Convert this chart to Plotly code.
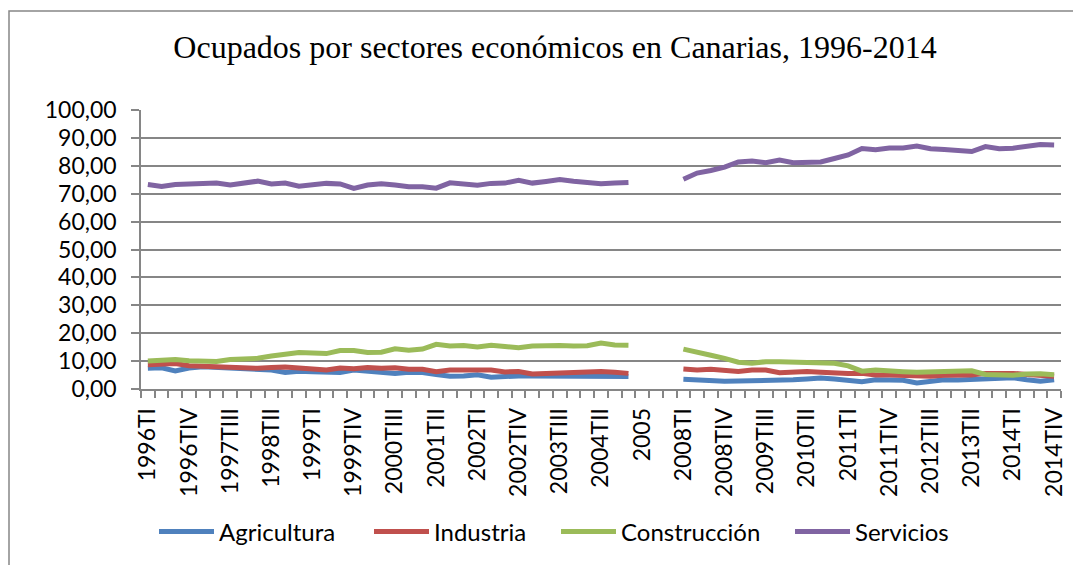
import plotly.graph_objects as go

# categories: quarters 1996-2004, years 2005-2007 (no data), quarters 2008-2014
quarters = ["TI", "TII", "TIII", "TIV"]
periodos = ([f"{y}{q}" for y in range(1996, 2005) for q in quarters]
            + ["2005", "2006", "2007"]
            + [f"{y}{q}" for y in range(2008, 2015) for q in quarters])
etiquetas = [p if i % 3 == 0 else "" for i, p in enumerate(periodos)]

hueco = [None, None, None]

agricultura = ([7.4, 7.6, 6.5, 7.5, 8.0, 7.8, 7.8, 7.5, 7.3, 6.8, 5.9, 6.4,
                6.2, 6.1, 5.9, 6.8, 6.5, 5.9, 5.6, 6.0, 5.9, 5.2, 4.6, 4.7,
                5.1, 4.2, 4.6, 4.7, 4.7, 4.7, 4.5, 4.6, 4.7, 4.7, 4.5, 4.5]
               + hueco
               + [3.5, 3.2, 2.8, 2.8, 2.9, 2.9, 2.9, 2.9, 3.3, 3.6, 3.9, 3.6,
                  3.1, 2.6, 3.3, 3.1, 3.1, 2.2, 2.9, 3.3, 3.2, 3.3, 3.4, 3.9,
                  4.0, 3.3, 2.8, 3.3])

industria = ([8.7, 8.7, 9.1, 8.3, 8.1, 8.0, 8.0, 7.7, 7.4, 7.7, 7.9, 7.5,
              7.1, 6.8, 7.5, 7.3, 7.7, 7.4, 7.6, 7.1, 7.1, 6.2, 6.8, 6.9,
              6.9, 6.8, 6.1, 6.3, 5.4, 5.6, 5.6, 5.6, 6.1, 6.3, 6.0, 5.6]
             + hueco
             + [7.2, 6.8, 7.1, 6.9, 6.3, 6.8, 6.8, 5.8, 6.2, 6.3, 6.0, 5.6,
                5.6, 5.6, 5.0, 5.0, 4.8, 4.4, 4.6, 4.9, 5.0, 5.0, 5.6, 5.8,
                5.6, 5.2, 4.8, 4.6])

construccion = ([10.0, 10.2, 10.6, 10.1, 10.2, 9.9, 10.6, 10.7, 11.0, 11.8, 12.6, 13.1,
                 12.9, 12.7, 13.8, 13.8, 13.1, 13.2, 14.4, 13.9, 14.3, 16.0, 15.4, 15.6,
                 15.1, 15.7, 15.2, 14.8, 15.4, 15.6, 15.6, 15.4, 15.5, 16.5, 15.8, 15.7]
                + hueco
                + [14.3, 13.0, 12.1, 11.0, 9.6, 9.2, 9.8, 9.8, 9.6, 9.4, 9.2, 9.2,
                   8.3, 6.4, 6.8, 6.7, 6.2, 6.0, 6.2, 6.5, 6.5, 6.5, 5.2, 4.9,
                   4.9, 5.4, 5.5, 5.1])

servicios = ([73.3, 72.6, 73.3, 73.4, 73.6, 73.8, 73.1, 73.7, 74.5, 73.5, 73.8, 72.7,
              73.1, 73.7, 73.5, 71.9, 73.1, 73.6, 73.1, 72.5, 72.5, 72.0, 73.9, 73.3,
              73.0, 73.7, 73.8, 74.8, 73.8, 74.4, 75.1, 74.5, 74.0, 73.6, 73.8, 74.0]
             + hueco
             + [75.2, 77.4, 78.3, 79.5, 81.4, 81.7, 81.1, 82.1, 81.1, 81.4, 81.4, 82.6,
                83.9, 86.2, 85.8, 86.4, 86.4, 87.1, 86.1, 85.8, 85.5, 85.1, 86.9, 86.1,
                86.3, 86.8, 87.6, 87.5])

series = [
    ("Agricultura", agricultura, "#4F81BD"),
    ("Industria", industria, "#C0504D"),
    ("Construcción", construccion, "#9BBB59"),
    ("Servicios", servicios, "#8064A2"),
]

# page body adds an 8px offset, so the figure is laid out 8px smaller
W, H = 1073, 557
L, R, T, B = 133, 20, 102, 176
pw, ph = W - L - R, H - T - B

font = "Lato, Calibri, Carlito, sans-serif"
gris = "#868686"

# left edge of each legend entry (pixels in the figure)
legend_x = [146, 361, 548, 782]

fig = go.Figure()
leg_layout = {}
for k, (nombre, valores, color) in enumerate(series):
    lg = "legend" if k == 0 else f"legend{k + 1}"
    fig.add_trace(go.Scatter(
        x=periodos, y=valores, name=nombre, mode="lines",
        line=dict(color=color, width=5),
        connectgaps=False, legend=lg, showlegend=True,
    ))
    leg_layout[lg] = dict(
        orientation="h",
        xref="container", x=legend_x[k] / W, xanchor="left",
        yref="container", y=1 - 524 / H, yanchor="middle",
        font=dict(family=font, size=24),
        itemwidth=55, bgcolor="rgba(0,0,0,0)",
    )

fig.update_layout(
    width=W, height=H,
    margin=dict(l=L, r=R, t=T, b=B),
    paper_bgcolor="white", plot_bgcolor="white",
    separators=",.",
    showlegend=True,
    font=dict(family=font, size=23, color="black"),
    title=dict(
        text="Ocupados por sectores económicos en Canarias, 1996-2014",
        font=dict(family="Liberation Serif, Times New Roman, serif", size=32, color="black"),
        xref="container", x=547 / W, xanchor="center",
        yref="container", y=1 - 39 / H, yanchor="middle",
    ),
    xaxis=dict(
        type="category",
        range=[-0.5, len(periodos) - 0.5],
        tickmode="array", tickvals=periodos, ticktext=etiquetas,
        tickson="boundaries",
        tickangle=-90,
        ticks="outside", ticklen=7, tickcolor=gris, tickwidth=1.5,
        ticklabelstandoff=8,
        showline=True, linecolor=gris, linewidth=1.5,
        showgrid=False, zeroline=False,
    ),
    yaxis=dict(
        range=[0, 100], dtick=10, tickformat=".2f",
        ticks="outside", ticklen=8, tickcolor=gris, tickwidth=1.5,
        ticklabelstandoff=10,
        showline=True, linecolor=gris, linewidth=1.5,
        showgrid=True, gridcolor=gris, gridwidth=1.5,
        zeroline=False,
    ),
    shapes=[dict(
        type="rect", xref="paper", yref="paper",
        x0=(1 - L) / pw, x1=(W + 20 - L) / pw,
        y0=-(H + 20 - (T + ph)) / ph, y1=(T + ph - 3) / ph,
        line=dict(color=gris, width=1.5), fillcolor="rgba(0,0,0,0)",
        layer="below",
    )],
    **leg_layout,
)

fig.write_html("out.html")
